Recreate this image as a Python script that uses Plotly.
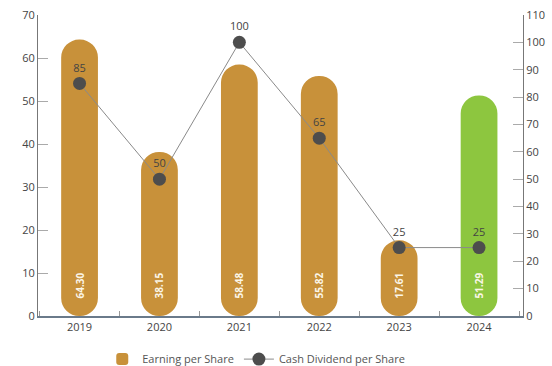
import plotly.graph_objects as go

# Yearly figures
years = ["2019", "2020", "2021", "2022", "2023", "2024"]
eps_values = [64.30, 38.15, 58.48, 55.82, 17.61, 51.29]
eps_labels = ["64.30", "38.15", "58.48", "55.82", "17.61", "51.29"]
dividend_values = [85, 50, 100, 65, 25, 25]

GOLD = "#C8913A"
LIME = "#8DC63F"
bar_colors = [GOLD] * 5 + [LIME]

# Leading non-breaking spaces lift the rotated labels off the baseline
PAD = "\u00a0" * 5

fig = go.Figure()
fig.add_trace(go.Bar(
    x=years, y=eps_values, base=[0] * len(eps_values), width=0.46,
    marker=dict(color=bar_colors, cornerradius="50%", line=dict(width=0)),
    text=[PAD + "<b>" + s + "</b>" for s in eps_labels],
    textposition="inside", insidetextanchor="start",
    textangle=-90, constraintext="none",
    textfont=dict(size=10, color="#fbf6e8"),
    name="Earning per Share", hoverinfo="skip",
))

fig.add_trace(go.Scatter(
    x=years, y=dividend_values, yaxis="y2",
    mode="lines+markers+text",
    line=dict(color="#8a8a8a", width=1),
    marker=dict(color="#4d4d4d", size=13, symbol="circle"),
    text=[str(v) for v in dividend_values], textposition="top center",
    textfont=dict(size=11, color="#444444"),
    name="Cash Dividend per Share",
))

axis_common = dict(
    showline=True, linecolor="#777777", linewidth=1,
    ticks="inside", ticklen=10, tickcolor="#aaaaaa",
    showgrid=False, zeroline=False,
    tickfont=dict(size=11, color="#444444"),
)

fig.update_layout(
    width=552, height=366,
    margin=dict(l=38, r=29, t=15, b=50, autoexpand=False),
    paper_bgcolor="white", plot_bgcolor="white",
    font=dict(family="Open Sans", size=11, color="#444444"),
    barmode="overlay",
    xaxis=dict(
        type="category", range=[-0.52, 5.55],
        showline=True, linecolor="#6a7a8a", linewidth=1.5,
        ticks="inside", tickson="boundaries", ticklen=5, tickcolor="#999999",
        showgrid=False, tickfont=dict(size=11, color="#444444"),
    ),
    yaxis=dict(range=[0, 70], dtick=10, **axis_common),
    yaxis2=dict(range=[0, 110], dtick=10, overlaying="y", side="right", **axis_common),
    legend=dict(
        orientation="h", x=0.45, xanchor="center", y=-0.095, yanchor="top",
        font=dict(size=11, color="#555555"), itemwidth=30,
    ),
    showlegend=True,
)

fig.write_html("out.html")
